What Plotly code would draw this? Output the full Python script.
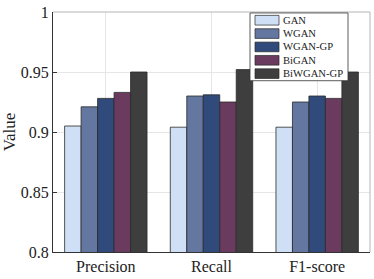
import plotly.graph_objects as go

categories = ["Precision", "Recall", "F1-score"]
series_names = ["GAN", "WGAN", "WGAN-GP", "BiGAN", "BiWGAN-GP"]
gan = [0.905, 0.904, 0.904]
wgan = [0.921, 0.930, 0.925]
wgan_gp = [0.928, 0.931, 0.930]
bigan = [0.933, 0.925, 0.928]
biwgan_gp = [0.950, 0.952, 0.950]
colors = ["#cfe0f6", "#6477a1", "#2f4a7b", "#6a3a5f", "#3e3e3e"]
y_ticks = [0.8, 0.85, 0.9, 0.95, 1]
y_tick_labels = ["0.8", "0.85", "0.9", "0.95", "1"]

values = [gan, wgan, wgan_gp, bigan, biwgan_gp]

W, H = 374, 279
ML, MR, MT, MB = 53, 4, 7, 24
PW, PH = W - ML - MR, H - MT - MB


def px(x):
    return (x - ML) / PW


def py(y):
    return (H - MB - y) / PH


fig = go.Figure()
for name, vals, col in zip(series_names, values, colors):
    fig.add_trace(go.Bar(
        x=categories, y=vals, name=name, showlegend=False,
        marker=dict(color=col, line=dict(color="#2a2a2a", width=0.8)),
    ))

serif = "Liberation Serif, Times New Roman, serif"

# light top / right box lines (MATLAB "box on")
shapes = [
    dict(type="line", xref="paper", yref="paper", x0=0, x1=1, y0=1, y1=1,
         line=dict(color="#b5b5b5", width=1), layer="above"),
    dict(type="line", xref="paper", yref="paper", x0=1, x1=1, y0=0, y1=1,
         line=dict(color="#b5b5b5", width=1), layer="above"),
]
# compact legend (MATLAB style)
shapes.append(dict(type="rect", xref="paper", yref="paper", layer="above",
                   x0=px(250), x1=px(348), y0=py(78), y1=py(8),
                   fillcolor="white", line=dict(color="#333", width=0.8)))
annotations = []
for i, (name, col) in enumerate(zip(series_names, colors)):
    cy = 15.5 + 13.8 * i
    shapes.append(dict(type="rect", xref="paper", yref="paper", layer="above",
                       x0=px(255), x1=px(279), y0=py(cy + 5), y1=py(cy - 5),
                       fillcolor=col, line=dict(color="#2a2a2a", width=0.7)))
    annotations.append(dict(xref="paper", yref="paper", x=px(281), y=py(cy),
                            xanchor="left", yanchor="middle", text=name,
                            showarrow=False,
                            font=dict(family=serif, size=10.6, color="#222")))

fig.update_layout(
    width=W, height=H,
    margin=dict(l=ML, r=MR, t=MT, b=MB),
    paper_bgcolor="white", plot_bgcolor="white",
    barmode="group", bargap=0.22, bargroupgap=0,
    font=dict(family=serif, color="#222", size=16),
    showlegend=False,
    shapes=shapes, annotations=annotations,
    xaxis=dict(
        range=[-0.5, 2.5], showgrid=True, gridcolor="#e6e6e6",
        showline=True, linecolor="#333", linewidth=1, mirror=False,
        ticks="inside", ticklen=0, tickfont=dict(size=16),
    ),
    yaxis=dict(
        range=[0.8, 1.0], tickvals=y_ticks, ticktext=y_tick_labels,
        showgrid=True, gridcolor="#e6e6e6", ticklabeloverflow="allow",
        showline=True, linecolor="#333", linewidth=1, mirror=False,
        ticks="inside", ticklen=4, tickcolor="#333", tickfont=dict(size=16),
        title=dict(text="Value", standoff=4, font=dict(size=17)),
    ),
)

fig.write_html("out.html", config={"displayModeBar": False},
               post_script="document.body.style.margin='0';")
